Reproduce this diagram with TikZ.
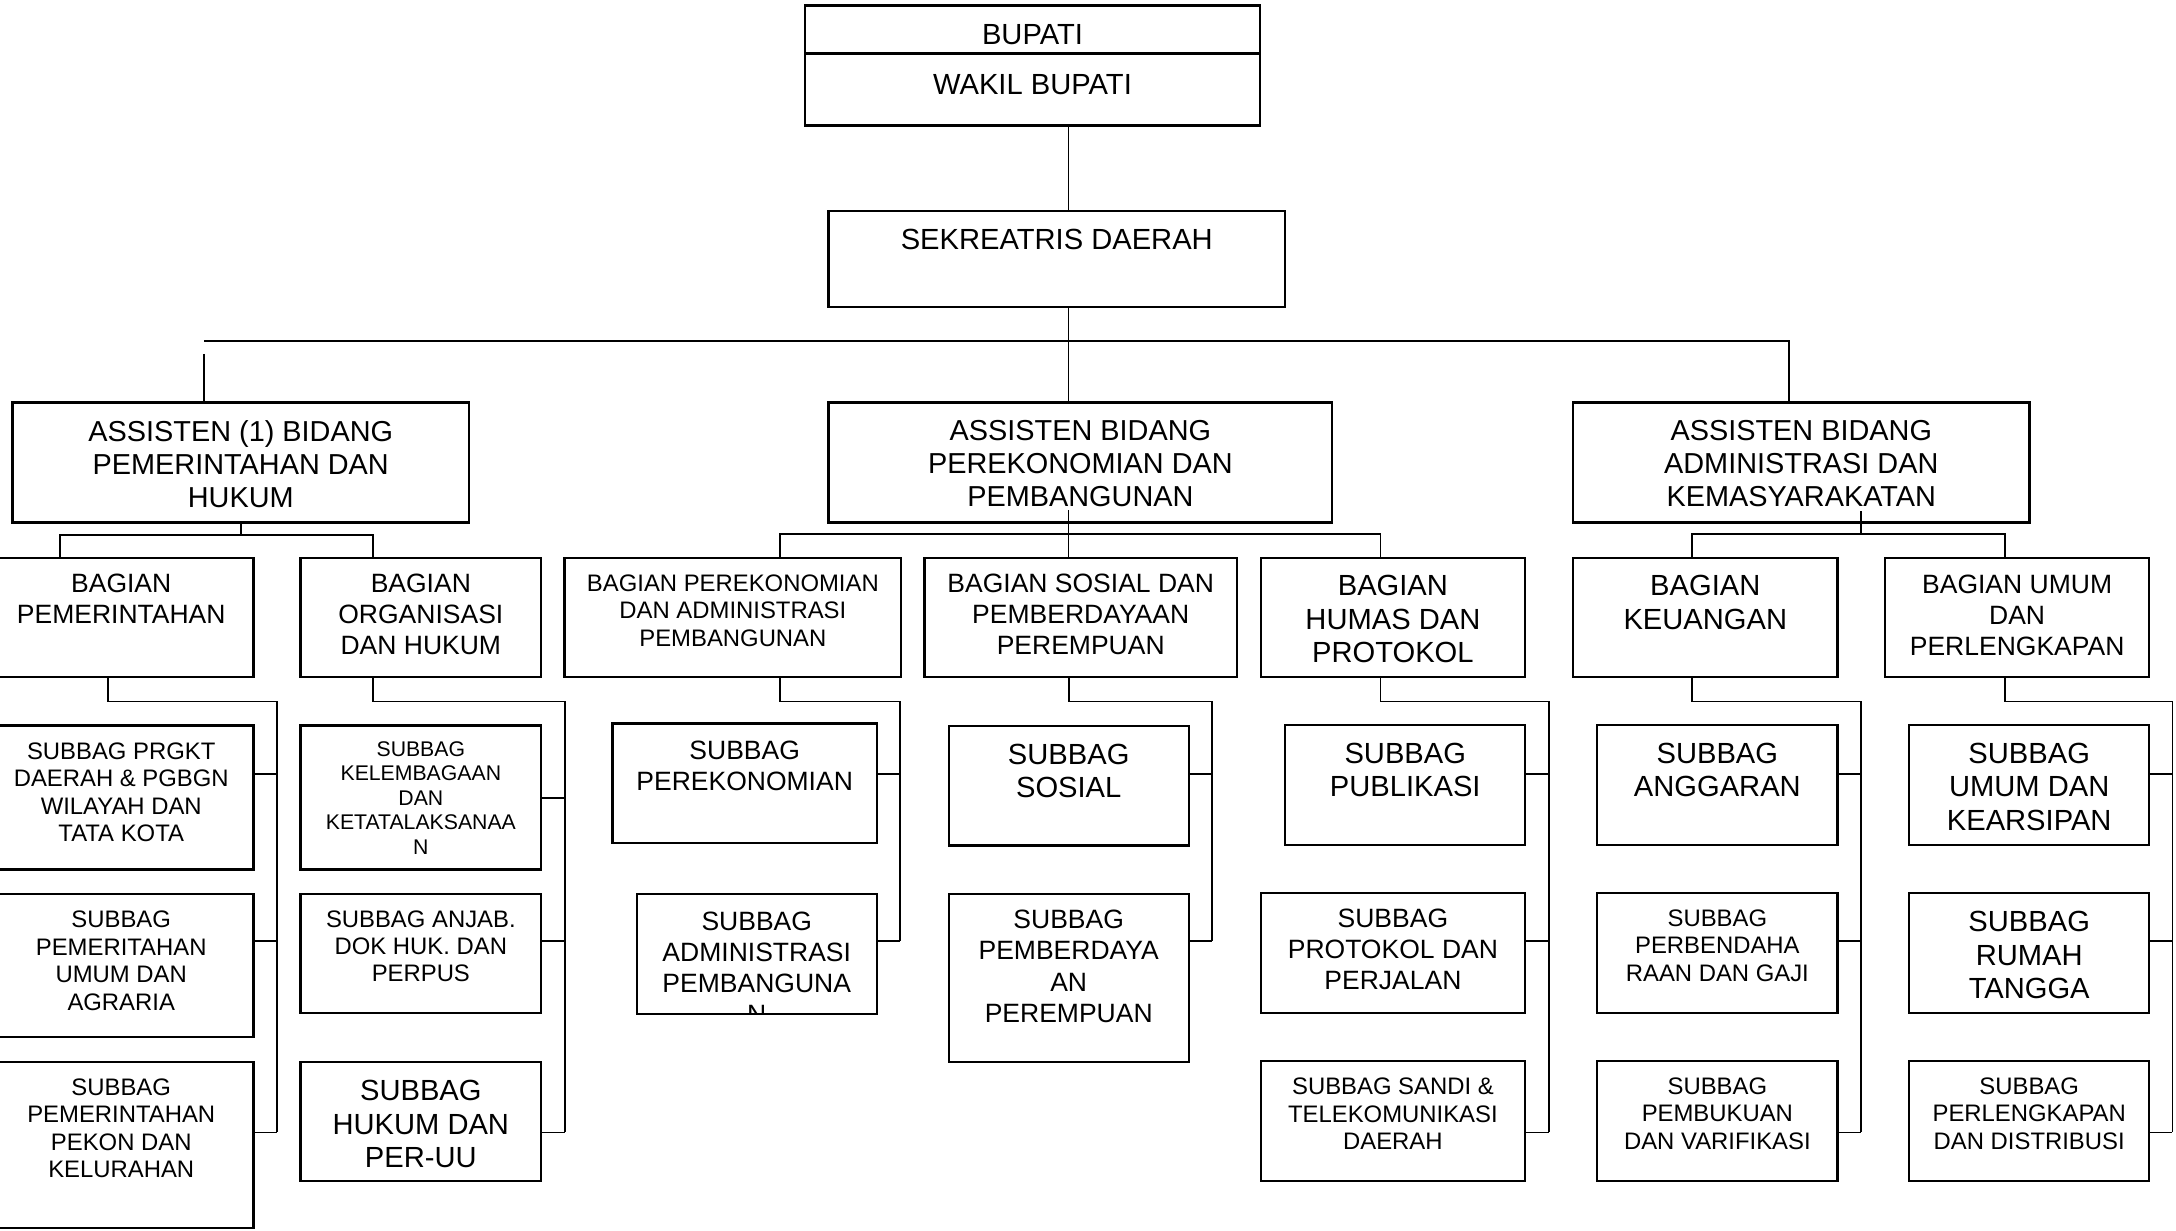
\documentclass[tikz,border=0pt]{standalone}
\usepackage{fontspec}
\setmainfont{Liberation Sans}
\usetikzlibrary{positioning,fit}

\begin{document}
\begin{tikzpicture}[x=0.5pt, y=-0.5pt, unit/.style={
  % The shape:
  rectangle, inner sep=0pt,
  % The border
  draw=black, line width=0.8pt},
  bigtext/.style={inner sep=0pt, align=center, font=\fontsize{10.5pt}{12pt}\selectfont},
  headtext/.style={inner sep=0pt, align=center, font=\fontsize{10.4pt}{12pt}\selectfont},
  midtext/.style={inner sep=0pt, align=center, font=\fontsize{9.55pt}{11.2pt}\selectfont},
  smalltext/.style={inner sep=0pt, align=center, font=\fontsize{8.6pt}{9.9pt}\selectfont},
  tinytext/.style={inner sep=0pt, align=center, font=\fontsize{7.65pt}{8.8pt}\selectfont},
  link/.style={line width=0.65pt}]

  \useasboundingbox (0,0) rectangle (1568,887);

  % top of the chart
  \node [unit, fit={(580,4) (908,38.5)}] (bupati) {};
  \node [unit, fit={(580,38.5) (908,90.5)}] (wakil) {};
  \node [unit, fit={(597,152) (926,221)}] (sekda) {};
  \node [bigtext, below=6.9pt of bupati.north] (bupati-t) {BUPATI};
  \node [bigtext, below=7.7pt of wakil.north] (wakil-t) {WAKIL BUPATI};
  \node [bigtext, below=6.8pt of sekda.north] (sekda-t) {SEKREATRIS DAERAH};

  % assisten
  \node [unit, fit={(9,290) (338,376.5)}] (as1) {};
  \node [unit, fit={(597,290) (960,376.5)}] (as2) {};
  \node [unit, fit={(1133.5,290) (1462.4,376.5)}] (as3) {};
  \node [headtext, below=6.6pt of as1.north] (as1-t) {ASSISTEN (1) BIDANG\\ PEMERINTAHAN DAN\\ HUKUM};
  \node [headtext, below=6.6pt of as2.north] (as2-t) {ASSISTEN BIDANG\\ PEREKONOMIAN DAN\\ PEMBANGUNAN};
  \node [headtext, below=6.6pt of as3.north] (as3-t) {ASSISTEN BIDANG\\ ADMINISTRASI DAN\\ KEMASYARAKATAN};

  % bagian
  \node [unit, fit={(-8,402) (182.7,488)}] (b11) {};
  \node [unit, fit={(216.5,402) (390,488)}] (b12) {};
  \node [unit, fit={(406.7,402) (649.5,488)}] (b21) {};
  \node [unit, fit={(666.2,402) (891.3,488)}] (b22) {};
  \node [unit, fit={(908.4,402) (1099,488)}] (b23) {};
  \node [unit, fit={(1133.5,402) (1324.1,488)}] (b31) {};
  \node [unit, fit={(1358.2,402) (1548.8,488)}] (b32) {};
  \node [midtext, below=5.85pt of b11.north] (b11-t) {BAGIAN\\ PEMERINTAHAN};
  \node [midtext, below=5.85pt of b12.north] (b12-t) {BAGIAN\\ ORGANISASI\\ DAN HUKUM};
  \node [smalltext, below=6.2pt of b21.north] (b21-t) {BAGIAN PEREKONOMIAN\\ DAN ADMINISTRASI\\ PEMBANGUNAN};
  \node [midtext, below=6.1pt of b22.north] (b22-t) {BAGIAN SOSIAL DAN\\ PEMBERDAYAAN\\ PEREMPUAN};
  \node [bigtext, below=6.6pt of b23.north] (b23-t) {BAGIAN\\ HUMAS DAN\\ PROTOKOL};
  \node [bigtext, below=6.6pt of b31.north] (b31-t) {BAGIAN\\ KEUANGAN};
  \node [midtext, below=6.25pt of b32.north] (b32-t) {BAGIAN UMUM\\ DAN\\ PERLENGKAPAN};

  % subbag
  \node [unit, fit={(-8,522.8) (182.7,626.5)}] (s111) {};
  \node [unit, fit={(-8,644) (182.7,747.5)}] (s112) {};
  \node [unit, fit={(-8,765) (182.7,885)}] (s113) {};
  \node [unit, fit={(216.5,522.8) (390,626.5)}] (s121) {};
  \node [unit, fit={(216.5,644) (390,730)}] (s122) {};
  \node [unit, fit={(216.5,765) (390,851)}] (s123) {};
  \node [unit, fit={(441.4,521.4) (631.8,607.6)}] (s211) {};
  \node [unit, fit={(458.8,644.2) (631.8,730.4)}] (s212) {};
  \node [unit, fit={(683.6,523) (856.6,609.2)}] (s221) {};
  \node [unit, fit={(683.6,644.2) (856.6,765.1)}] (s222) {};
  \node [unit, fit={(926.2,522.6) (1099,608.9)}] (s231) {};
  \node [unit, fit={(908.4,643.7) (1099,729.7)}] (s232) {};
  \node [unit, fit={(908.4,764.8) (1099,850.8)}] (s233) {};
  \node [unit, fit={(1150.9,522.6) (1324.1,608.9)}] (s311) {};
  \node [unit, fit={(1150.9,643.7) (1324.1,729.7)}] (s312) {};
  \node [unit, fit={(1150.9,764.8) (1324.1,850.8)}] (s313) {};
  \node [unit, fit={(1375.6,522.6) (1548.8,608.9)}] (s321) {};
  \node [unit, fit={(1375.6,643.7) (1548.8,729.7)}] (s322) {};
  \node [unit, fit={(1375.6,764.8) (1548.8,850.8)}] (s323) {};

  \node [smalltext, below=6.3pt of s111.north] (s111-t) {SUBBAG PRGKT\\ DAERAH \& PGBGN\\ WILAYAH DAN\\ TATA KOTA};
  \node [smalltext, below=6.4pt of s112.north] (s112-t) {SUBBAG\\ PEMERITAHAN\\ UMUM DAN\\ AGRARIA};
  \node [smalltext, below=6.3pt of s113.north] (s113-t) {SUBBAG\\ PEMERINTAHAN\\ PEKON DAN\\ KELURAHAN};
  \node [tinytext, below=6pt of s121.north] (s121-t) {SUBBAG\\ KELEMBAGAAN\\ DAN\\ KETATALAKSANAA\\ N};
  \node [smalltext, below=6.2pt of s122.north] (s122-t) {SUBBAG ANJAB.\\ DOK HUK. DAN\\ PERPUS};
  \node [bigtext, below=7pt of s123.north] (s123-t) {SUBBAG\\ HUKUM DAN\\ PER-UU};
  \node [midtext, below=6.4pt of s211.north] (s211-t) {SUBBAG\\ PEREKONOMIAN};
  \begin{scope}
    \clip (s212.north west) rectangle (s212.south east);
    \node [midtext, below=6.6pt of s212.north] (s212-t) {SUBBAG\\ ADMINISTRASI\\ PEMBANGUNA\\ N};
  \end{scope}
  \node [bigtext, below=6.8pt of s221.north] (s221-t) {SUBBAG\\ SOSIAL};
  \node [midtext, below=6.1pt of s222.north] (s222-t) {SUBBAG\\ PEMBERDAYA\\ AN\\ PEREMPUAN};
  \node [bigtext, below=6.7pt of s231.north] (s231-t) {SUBBAG\\ PUBLIKASI};
  \node [midtext, below=5.9pt of s232.north] (s232-t) {SUBBAG\\ PROTOKOL DAN\\ PERJALAN};
  \node [smalltext, below=6.3pt of s233.north] (s233-t) {SUBBAG SANDI \&\\ TELEKOMUNIKASI\\ DAERAH};
  \node [bigtext, below=6.7pt of s311.north] (s311-t) {SUBBAG\\ ANGGARAN};
  \node [smalltext, below=6.1pt of s312.north] (s312-t) {SUBBAG\\ PERBENDAHA\\ RAAN DAN GAJI};
  \node [smalltext, below=6.1pt of s313.north] (s313-t) {SUBBAG\\ PEMBUKUAN\\ DAN VARIFIKASI};
  \node [bigtext, below=6.7pt of s321.north] (s321-t) {SUBBAG\\ UMUM DAN\\ KEARSIPAN};
  \node [bigtext, below=6.8pt of s322.north] (s322-t) {SUBBAG\\ RUMAH\\ TANGGA};
  \node [smalltext, below=6.1pt of s323.north] (s323-t) {SUBBAG\\ PERLENGKAPAN\\ DAN DISTRIBUSI};

  % lines from the top
  \coordinate (spine) at (770,246);
  \coordinate (barL) at (147,246);
  \coordinate (barR) at (1289,246);
  \draw [line width=0.4pt] (wakil.south -| spine) -- (sekda.north -| spine);
  \draw [line width=0.4pt] (sekda.south -| spine) -- (as2.north -| spine);
  \draw [link] (barL) -- (barR) -- (as3.north -| barR);
  \draw [line width=0.4pt] (barL) ++(0,9) -- (as1.north -| barL);

  % assisten to bagian
  \coordinate (k1L) at (43.5,385.3);
  \coordinate (k1R) at (268.8,385.3);
  \coordinate (k2L) at (562.3,384.7);
  \coordinate (k2R) at (994.7,384.7);
  \coordinate (k3L) at (1219.4,384.8);
  \coordinate (k3M) at (1341.1,384.8);
  \coordinate (k3R) at (1444.5,384.8);
  \draw [link] (b11.north -| k1L) -- (k1L) -- (k1R) -- (b12.north -| k1R);
  \draw [link] (as1.south) -- (as1.south |- k1L);
  \draw [link] (b21.north -| k2L) -- (k2L) -- (k2R) -- (b23.north -| k2R);
  \draw [link] (as2.south -| spine) ++(0,-9.5) -- (b22.north -| spine);
  \draw [link] (b31.north -| k3L) -- (k3L) -- (k3R) -- (b32.north -| k3R);
  \draw [link] (as3.south -| k3M) ++(0,-9) -- (k3M);

  % bagian to subbag
  \coordinate (row1) at (0,557.5);
  \coordinate (row1b) at (0,575);
  \coordinate (row2) at (0,678.2);
  \coordinate (row3) at (0,816);

  \coordinate (e11) at (78,505.5);
  \coordinate (r11) at (199.5,505.5);
  \draw [link] (b11.south -| e11) -- (e11) -- (r11) -- (r11 |- row3);
  \draw [link] (s111.east |- row1) -- (r11 |- row1);
  \draw [link] (s112.east |- row2) -- (r11 |- row2);
  \draw [link] (s113.east |- row3) -- (r11 |- row3);

  \coordinate (e12) at (268.8,505.5);
  \coordinate (r12) at (407,505.5);
  \draw [link] (b12.south -| e12) -- (e12) -- (r12) -- (r12 |- row3);
  \draw [link] (s121.east |- row1b) -- (r12 |- row1b);
  \draw [link] (s122.east |- row2) -- (r12 |- row2);
  \draw [link] (s123.east |- row3) -- (r12 |- row3);

  \coordinate (e21) at (562.3,505.5);
  \coordinate (r21) at (648.8,505.5);
  \draw [link] (b21.south -| e21) -- (e21) -- (r21) -- (r21 |- row2);
  \draw [link] (s211.east |- row1) -- (r21 |- row1);
  \draw [link] (s212.east |- row2) -- (r21 |- row2);

  \coordinate (e22) at (770.1,505.5);
  \coordinate (r22) at (873.6,505.5);
  \draw [link] (b22.south -| e22) -- (e22) -- (r22) -- (r22 |- row2);
  \draw [link] (s221.east |- row1) -- (r22 |- row1);
  \draw [link] (s222.east |- row2) -- (r22 |- row2);

  \coordinate (e23) at (994.7,505.5);
  \coordinate (r23) at (1116.4,505.5);
  \draw [link] (b23.south -| e23) -- (e23) -- (r23) -- (r23 |- row3);
  \draw [link] (s231.east |- row1) -- (r23 |- row1);
  \draw [link] (s232.east |- row2) -- (r23 |- row2);
  \draw [link] (s233.east |- row3) -- (r23 |- row3);

  \coordinate (e31) at (1219.4,505.5);
  \coordinate (r31) at (1341.1,505.5);
  \draw [link] (b31.south -| e31) -- (e31) -- (r31) -- (r31 |- row3);
  \draw [link] (s311.east |- row1) -- (r31 |- row1);
  \draw [link] (s312.east |- row2) -- (r31 |- row2);
  \draw [link] (s313.east |- row3) -- (r31 |- row3);

  \coordinate (e32) at (1444.5,505.5);
  \coordinate (r32) at (1565.4,505.5);
  \draw [link] (b32.south -| e32) -- (e32) -- (r32) -- (r32 |- row3);
  \draw [link] (s321.east |- row1) -- (r32 |- row1);
  \draw [link] (s322.east |- row2) -- (r32 |- row2);
  \draw [link] (s323.east |- row3) -- (r32 |- row3);

\end{tikzpicture}
\end{document}
